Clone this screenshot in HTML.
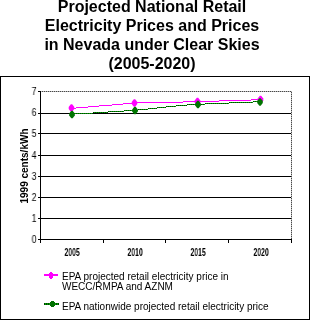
<!DOCTYPE html>
<html><head><meta charset="utf-8">
<style>
html,body{margin:0;padding:0;background:#fff;}
body{width:310px;height:320px;position:relative;overflow:hidden;font-family:"Liberation Sans",sans-serif;}
.t,.yl,.xl,.leg{will-change:transform;}
.t{position:absolute;left:0;width:304px;text-align:center;font-weight:bold;font-size:16px;line-height:19px;color:#000;white-space:nowrap;}
svg{position:absolute;left:0;top:0;}
.yl{position:absolute;font-size:10px;line-height:10px;transform:scaleX(0.88);transform-origin:right center;color:#000;}
.xl{position:absolute;font-size:10px;font-weight:bold;line-height:10px;color:#000;transform-origin:center center;}
.leg{position:absolute;left:62px;font-size:10px;line-height:10px;color:#000;white-space:nowrap;}
.yt{position:absolute;font-size:10px;font-weight:bold;line-height:10px;white-space:nowrap;transform:rotate(-90deg);transform-origin:center center;}
</style></head>
<body>
<div class="t" style="top:-3px">Projected National Retail<br>Electricity Prices and Prices<br>in Nevada under Clear Skies<br>(2005-2020)</div>
<svg width="310" height="320" viewBox="0 0 310 320">
  <rect x="0.5" y="76.5" width="309" height="243" fill="none" stroke="#000" stroke-width="1"/>
  <!-- plot border dashed -->
  <g shape-rendering="crispEdges">
  <line x1="40" y1="91.5" x2="292" y2="91.5" stroke="#b8b8b8" stroke-width="1"/>
  <line x1="291.5" y1="91" x2="291.5" y2="239" stroke="#b8b8b8" stroke-width="1"/>
  <line x1="40" y1="91.5" x2="292" y2="91.5" stroke="#484848" stroke-width="1" stroke-dasharray="1,1"/>
  <line x1="291.5" y1="92" x2="291.5" y2="239" stroke="#484848" stroke-width="1" stroke-dasharray="1,1"/>
  </g>
  <!-- gridlines -->
  <g stroke="#000" stroke-width="1">
    <line x1="38" y1="113.5" x2="291" y2="113.5"/>
    <line x1="38" y1="133.5" x2="291" y2="133.5"/>
    <line x1="38" y1="155.5" x2="291" y2="155.5"/>
    <line x1="38" y1="176.5" x2="291" y2="176.5"/>
    <line x1="38" y1="197.5" x2="291" y2="197.5"/>
    <line x1="38" y1="218.5" x2="291" y2="218.5"/>
    <line x1="38" y1="239.5" x2="292" y2="239.5"/>
    <line x1="38" y1="91.5" x2="40" y2="91.5"/>
    <line x1="40.5" y1="91" x2="40.5" y2="243"/>
    <line x1="103.5" y1="239" x2="103.5" y2="243"/>
    <line x1="165.5" y1="239" x2="165.5" y2="243"/>
    <line x1="228.5" y1="239" x2="228.5" y2="243"/>
    <line x1="291.5" y1="239" x2="291.5" y2="243"/>
  </g>
  <!-- series -->
  <path d="M74 108.5H76 M76 107.5H88 M88 106.5H99 M99 105.5H112 M112 104.5H123 M123 103.5H135 M135 102.5H183 M183 101.5H219 M219 100.5H251 M251 99.5H260" stroke="#ff00ff" stroke-width="1" fill="none" shape-rendering="crispEdges"/>
  <g fill="#ff00ff"><polygon points="70.80,104.20 72.20,104.20 74.30,106.90 74.30,109.10 72.20,111.80 70.80,111.80 68.70,109.10 68.70,106.90"/><polygon points="133.80,99.20 135.20,99.20 137.30,101.90 137.30,104.10 135.20,106.80 133.80,106.80 131.70,104.10 131.70,101.90"/><polygon points="196.80,97.70 198.20,97.70 200.30,100.40 200.30,102.60 198.20,105.30 196.80,105.30 194.70,102.60 194.70,100.40"/><polygon points="259.80,95.70 261.20,95.70 263.30,98.40 263.30,100.60 261.20,103.30 259.80,103.30 257.70,100.60 257.70,98.40"/></g>
  <path d="M74 113.5H93 M93 112.5H108 M108 111.5H124 M124 110.5H138 M138 109.5H148 M148 108.5H157 M157 107.5H166 M166 106.5H176 M176 105.5H187 M187 104.5H205 M205 103.5H229 M229 102.5H253 M253 101.5H260" stroke="#00a000" stroke-width="1" fill="none" shape-rendering="crispEdges"/>
  <path d="M74 113.5H93 M93 112.5H108 M108 111.5H124 M124 110.5H138 M138 109.5H148 M148 108.5H157 M157 107.5H166 M166 106.5H176 M176 105.5H187 M187 104.5H205 M205 103.5H229 M229 102.5H253 M253 101.5H260" stroke="#004000" stroke-width="1" fill="none" stroke-dasharray="1,1" shape-rendering="crispEdges"/>
  <g fill="#007400"><polygon points="71.30,110.70 72.70,110.70 74.80,113.40 74.80,115.60 72.70,118.30 71.30,118.30 69.20,115.60 69.20,113.40"/><polygon points="134.30,106.70 135.70,106.70 137.80,109.40 137.80,111.60 135.70,114.30 134.30,114.30 132.20,111.60 132.20,109.40"/><polygon points="197.30,100.70 198.70,100.70 200.80,103.40 200.80,105.60 198.70,108.30 197.30,108.30 195.20,105.60 195.20,103.40"/><polygon points="259.30,98.20 260.70,98.20 262.80,100.90 262.80,103.10 260.70,105.80 259.30,105.80 257.20,103.10 257.20,100.90"/></g>
  <!-- legend -->
  <line x1="44" y1="275" x2="58" y2="275" stroke="#ff00ff" stroke-width="2"/>
  <g fill="#ff00ff" shape-rendering="crispEdges"><rect x="49" y="273" width="4" height="5"/><rect x="50" y="272" width="2" height="7"/></g>
  <line x1="44" y1="304" x2="59" y2="304" stroke="#00a000" stroke-width="2"/><line x1="44" y1="304" x2="59" y2="304" stroke="#004000" stroke-width="2" stroke-dasharray="1,1"/>
  <g fill="#007000" shape-rendering="crispEdges"><rect x="50" y="302" width="5" height="4"/><rect x="51" y="301" width="3" height="6"/></g>
</svg>
<div class="yl" style="left:31px;top:86.5px">7</div>
<div class="yl" style="left:31px;top:107.5px">6</div>
<div class="yl" style="left:31px;top:129px">5</div>
<div class="yl" style="left:31px;top:150.5px">4</div>
<div class="yl" style="left:31px;top:171.5px">3</div>
<div class="yl" style="left:31px;top:192.5px">2</div>
<div class="yl" style="left:31px;top:213.5px">1</div>
<div class="yl" style="left:31px;top:234.5px">0</div>
<div class="xl" style="left:61px;top:248px;transform:scaleX(0.68)">2005</div>
<div class="xl" style="left:124px;top:248px;transform:scaleX(0.68)">2010</div>
<div class="xl" style="left:187px;top:248px;transform:scaleX(0.68)">2015</div>
<div class="xl" style="left:250px;top:248px;transform:scaleX(0.68)">2020</div>
<div class="yt" style="left:-13px;top:161px">1999 cents/kWh</div>
<div class="leg" style="top:272px">EPA projected retail electricity price in<br>WECC/RMPA and AZNM</div>
<div class="leg" style="top:302px">EPA nationwide projected retail electricity price</div>
</body></html>
